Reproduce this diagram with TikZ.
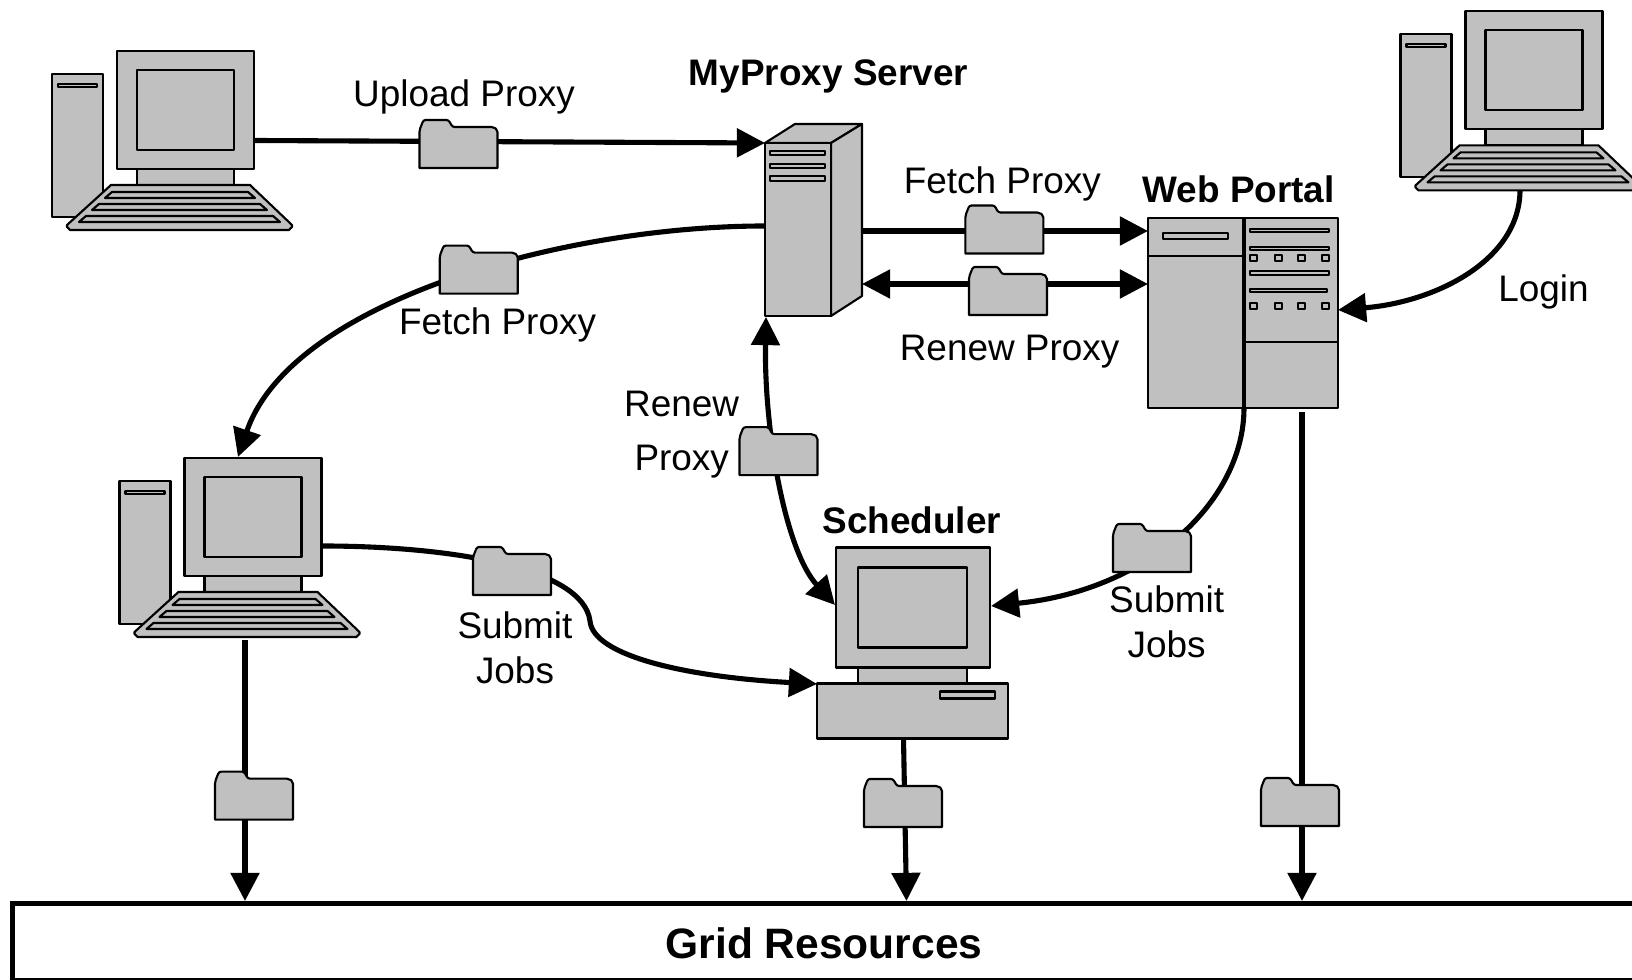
\documentclass[tikz,border=0pt]{standalone}
\usepackage{fontspec}
\setmainfont{Liberation Sans}
\usetikzlibrary{arrows.meta}

\definecolor{boxgray}{HTML}{C0C0C0}

\tikzset{
  part/.style={draw=black, fill=boxgray, line width=0.6pt, line join=round},
  flow/.style={line width=1.45pt, -{Triangle[length=8pt,width=8pt]}},
  flowboth/.style={line width=1.45pt, {Triangle[length=8pt,width=8pt]}-{Triangle[length=8pt,width=8pt]}},
  lbl/.style={font=\fontsize{10.5}{12.7}\selectfont, inner sep=0pt, align=center},
  ttl/.style={font=\fontsize{10.5}{13}\selectfont\bfseries, inner sep=0pt},
  % Folder carried along a connector
  pics/folder/.style={code={
    \filldraw[part] (-39,24) [rounded corners=0.6pt] -- (-39,-14) -- (-35,-24) -- (-10,-24) -- (-6,-17)
      -- (35,-17) -- (39,-14) [sharp corners] -- (39,24) -- cycle;
  }},
  % Tower, monitor and keyboard
  pics/desktop/.style={code={
    \filldraw[part] (-65,23) rectangle (-14,166);
    \filldraw[part] (-59,33) rectangle (-20,36);
    \filldraw[part] (20,118) rectangle (117,134);
    \filldraw[part] (0,0) rectangle (137,118);
    \filldraw[part] (20,19) rectangle (117,99);
    \filldraw[part] (-6,134) -- (133,134) -- (175,174) -- (175,176) -- (172,179)
      -- (-47,179) -- (-50,176) -- (-50,174) -- cycle;
    \filldraw[part] (-5,141) -- (131,141) -- (138,147) -- (-12,147) -- cycle;
    \filldraw[part] (-18,153) -- (143,153) -- (150,159) -- (-25,159) -- cycle;
    \filldraw[part] (-31,165) -- (156,165) -- (163,171) -- (-38,171) -- cycle;
  }},
  % Rack server in perspective
  pics/rackserver/.style={code={
    \filldraw[part] (0,0) -- (30,-19) -- (97,-19) -- (66,0) -- cycle;
    \filldraw[part] (66,0) -- (97,-19) -- (97,153) -- (66,173) -- cycle;
    \filldraw[part] (0,0) rectangle (66,173);
    \filldraw[part] (5,8) rectangle (60,12);
    \filldraw[part] (5,21) rectangle (60,25);
    \filldraw[part] (5,33) rectangle (60,38);
  }},
  % Portal cabinet
  pics/cabinet/.style={code={
    \filldraw[part] (0,0) rectangle (190,190);
    \draw[part] (0,38) -- (96,38);
    \draw[part] (96,124) -- (190,124);
    \draw[line width=0.9pt] (96,0) -- (96,190);
    \filldraw[part] (15,15) rectangle (80,21);
    \filldraw[part] (102,11) rectangle (181,14);
    \filldraw[part] (102,29) rectangle (181,32);
    \filldraw[part] (102,53) rectangle (181,57);
    \filldraw[part] (102,71) rectangle (179,74);
    \foreach \sx in {102,127,150,174} {
      \filldraw[part] (\sx,37) rectangle ++(7,6);
      \filldraw[part] (\sx,85) rectangle ++(7,6);
    }
  }},
  % Monitor standing on a flat case
  pics/flatcase/.style={code={
    \filldraw[part] (22,120) rectangle (131,136);
    \filldraw[part] (0,0) rectangle (154,120);
    \filldraw[part] (22,20) rectangle (131,100);
    \filldraw[part] (-19,136) rectangle (172,191);
    \filldraw[part] (104,144) rectangle (159,151);
  }}
}

\begin{document}
\begin{tikzpicture}[x=0.01cm, y=-0.01cm]
\clip (0,0) rectangle (1632,980);
\fill[white] (0,0) rectangle (1632,980);

%--- Connector ends ---
\coordinate (userout) at (254,140.5);
\coordinate (proxyin) at (765,143);
\coordinate (proxyleft) at (765,226);
\coordinate (proxyoutA) at (862,231);
\coordinate (proxyoutB) at (862,284);
\coordinate (proxydown) at (766,317);
\coordinate (portalinA) at (1148,231);
\coordinate (portalinB) at (1148,284);
\coordinate (portalright) at (1338,310);
\coordinate (portalsub) at (1244,408);
\coordinate (portaldown) at (1302,412);
\coordinate (loginout) at (1520,190);
\coordinate (clienttop) at (238,457);
\coordinate (clientout) at (322,546);
\coordinate (clientdown) at (245,640);
\coordinate (schedleft) at (835,605);
\coordinate (schedright) at (991,606);
\coordinate (schedcase) at (817,684);
\coordinate (scheddown) at (903.5,738);
\coordinate (gridA) at (245,901);
\coordinate (gridB) at (906.5,901);
\coordinate (gridC) at (1302,901);

%--- Connectors ---
\draw[flow] (userout) -- (proxyin);
\draw[flow] (proxyoutA) -- (portalinA);
\draw[flowboth] (proxyoutB) -- (portalinB);
\draw[flow] (proxyleft) .. controls (562,226) and (291,302) .. (clienttop);
\draw[flowboth] (proxydown) .. controls (764,430) and (785,550) .. (schedleft);
\draw[flow] (portalsub) .. controls (1244,500) and (1150,590) .. (schedright);
\draw[flow] (loginout) .. controls (1520,260) and (1436,302) .. (portalright);
\draw[flow] (clientout) .. controls (448,546) and (583,567) .. (590,621)
  .. controls (593,656) and (687,677) .. (schedcase);
\draw[flow] (clientdown) -- (gridA);
\draw[flow] (scheddown) -- (gridB);
\draw[flow] (portaldown) -- (gridC);

%--- Machines ---
\pic (user) at (117,51) {desktop};
\pic (client) at (184.5,458) {desktop};
\pic (browser) at (1465.5,11.4) {desktop};
\pic (proxy) at (765,143) {rackserver};
\pic (portal) at (1148,218) {cabinet};
\pic (sched) at (836,547.5) {flatcase};

%--- Folders on the connectors ---
\pic (uploadcred) at (458.5,144) {folder};
\pic (fetchcredA) at (1004.4,229.5) {folder};
\pic (renewcredA) at (1008,291) {folder};
\pic (fetchcredB) at (478.8,269.6) {folder};
\pic (renewcredB) at (778.5,451.2) {folder};
\pic (submitA) at (512,571) {folder};
\pic (submitB) at (1152,548) {folder};
\pic (jobA) at (254,795.7) {folder};
\pic (jobB) at (903,803) {folder};
\pic (jobC) at (1300,802) {folder};

%--- Grid box ---
\node[draw=black, line width=1.5pt, fill=white, outer sep=0pt, minimum width=1700*0.01cm, minimum height=77*0.01cm, anchor=north west, inner sep=0pt]
  (grid) at (12.2,903.2) {};
\node[font=\fontsize{12.1}{15}\selectfont\bfseries, inner sep=0pt] (gridtext) at (824,943) {Grid Resources};

%--- Labels ---
\node[lbl] (uploadlbl) at (464,97) {Upload Proxy};
\node[ttl] (proxylbl) at (828.5,76) {MyProxy Server};
\node[lbl] (fetchlblA) at (1002.3,183.5) {Fetch Proxy};
\node[ttl] (portallbl) at (1238.6,189.4) {Web Portal};
\node[lbl] (fetchlblB) at (497.5,324.8) {Fetch Proxy};
\node[lbl] (renewlblA) at (1009.6,351.6) {Renew Proxy};
\node[lbl] (loginlbl) at (1543.5,292.4) {Login};
\node[lbl] (renewlblB) at (681.7,435) {Renew\\[2.7pt]Proxy};
\node[ttl] (schedlbl) at (911.8,520.4) {Scheduler};
\node[lbl] (submitlblA) at (515,647.7) {Submit\\Jobs};
\node[lbl] (submitlblB) at (1166.7,621.7) {Submit\\Jobs};

\end{tikzpicture}
\end{document}
